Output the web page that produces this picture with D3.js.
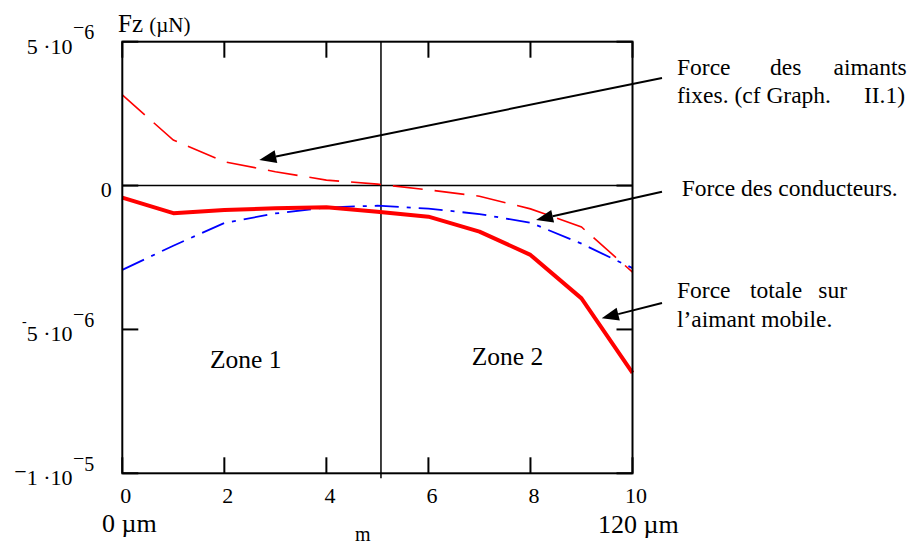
<!DOCTYPE html>
<html><head><meta charset="utf-8">
<script src="https://cdn.jsdelivr.net/npm/d3@7"></script>
<style>
body{margin:0;background:#fff}
text{font-family:"Liberation Serif","Times New Roman",serif;fill:#000}
</style>
</head><body>
<svg id="chart" width="915" height="547"></svg>
<script>
// ---- data ----
const xValues = [0, 1, 2, 3, 4, 5, 6, 7, 8, 9, 10];
const forceAimantsFixes = [3.15e-6, 1.58e-6, 0.83e-6, 0.48e-6, 0.19e-6, 0.05e-6, -0.15e-6, -0.37e-6, -0.81e-6, -1.44e-6, -3.01e-6];
const forceConducteurs = [-2.93e-6, -2.09e-6, -1.30e-6, -0.97e-6, -0.76e-6, -0.70e-6, -0.80e-6, -0.99e-6, -1.29e-6, -2.02e-6, -2.87e-6];
const forceTotale = [-0.42e-6, -0.96e-6, -0.85e-6, -0.79e-6, -0.75e-6, -0.91e-6, -1.08e-6, -1.60e-6, -2.41e-6, -3.92e-6, -6.51e-6];
const xTickValues = [0, 2, 4, 6, 8, 10];
const xTickLabels = ["0", "2", "4", "6", "8", "10"];
const yTickValues = [5e-6, 0, -5e-6, -1e-5];
const yTickMantissa = ["5 ·10", "0", "-5 ·10", "−1 ·10"];
const yTickExponent = ["6", "", "6", "5"];
const zoneMarkerX = 5.07;
const zoneLabels = ["Zone 1", "Zone 2"];
const zoneLabelX = [1.72, 6.85];
const zoneLabelY = [-6.34e-6, -6.24e-6];
const arrowTipX = [2.685, 8.11, 9.397];
const arrowTipY = [0.889e-6, -1.197e-6, -4.613e-6];

// ---- layout ----
const svg = d3.select("#chart");
const L = 122.3, R = 632.5, T = 41.7, B = 473.3;
const x = d3.scaleLinear().domain([0, 10]).range([L, R]);
const y = d3.scaleLinear().domain([-1e-5, 5e-6]).range([B, T]);
const TICK = 16;

// zero line
svg.append("line").attr("x1", L).attr("x2", R).attr("y1", y(0)).attr("y2", y(0))
  .attr("stroke", "#000").attr("stroke-width", 1.5);
// zone marker
svg.append("line").attr("x1", x(zoneMarkerX)).attr("x2", x(zoneMarkerX)).attr("y1", T).attr("y2", B + 5)
  .attr("stroke", "#000").attr("stroke-width", 1.5);

// series
const line = d3.line().x((d, i) => x(xValues[i])).y(d => y(d));
svg.append("path").datum(forceAimantsFixes).attr("d", line).attr("fill", "none")
  .attr("stroke", "#ff0000").attr("stroke-width", 1.6).attr("stroke-dasharray", "30,12");
svg.append("path").datum(forceConducteurs).attr("d", line).attr("fill", "none")
  .attr("stroke", "#0000ff").attr("stroke-width", 1.8).attr("stroke-dasharray", "24,8,4,8");
svg.append("path").datum(forceTotale).attr("d", line).attr("fill", "none")
  .attr("stroke", "#ff0000").attr("stroke-width", 4).attr("stroke-linejoin", "round");

// frame
svg.append("rect").attr("x", L).attr("y", T).attr("width", R - L).attr("height", B - T)
  .attr("fill", "none").attr("stroke", "#000").attr("stroke-width", 2);

// ticks (inward, mirrored)
const tg = svg.append("g").attr("stroke", "#000").attr("stroke-width", 2);
xTickValues.forEach(v => {
  tg.append("line").attr("x1", x(v)).attr("x2", x(v)).attr("y1", B).attr("y2", B - TICK);
  tg.append("line").attr("x1", x(v)).attr("x2", x(v)).attr("y1", T).attr("y2", T + TICK);
});
yTickValues.forEach(v => {
  tg.append("line").attr("x1", L).attr("x2", L + TICK).attr("y1", y(v)).attr("y2", y(v));
  tg.append("line").attr("x1", R).attr("x2", R - TICK).attr("y1", y(v)).attr("y2", y(v));
});

// x tick labels
xTickValues.forEach((v, i) => {
  svg.append("text").attr("x", x(v) + 3.5).attr("y", B + 30).attr("text-anchor", "middle")
    .attr("font-size", 22).text(xTickLabels[i]);
});

// y tick labels
yTickValues.forEach((v, i) => {
  const base = y(v) + 11.8;
  const m = yTickMantissa[i];
  if (!yTickExponent[i]) {
    svg.append("text").attr("x", 111.7).attr("y", base).attr("text-anchor", "end")
      .attr("font-size", 22).text(m);
    return;
  }
  const t = svg.append("text").attr("x", 72.5).attr("y", base).attr("text-anchor", "end").attr("font-size", 22);
  const first = m[0];
  if (first === "-") {
    t.append("tspan").attr("font-size", 14).attr("dy", -15).text("-");
    t.append("tspan").attr("dy", 15).text(m.slice(1));
  } else if (first === "−") {
    t.append("tspan").attr("dy", -6).text("−");
    t.append("tspan").attr("dy", 6).text(m.slice(1));
  } else {
    t.text(m);
  }
  const e = svg.append("text").attr("x", 73).attr("y", base - 20).attr("font-size", 20);
  e.append("tspan").text("−");
  e.append("tspan").attr("dy", 5.5).text(yTickExponent[i]);
});

// axis titles
const ft = svg.append("text").attr("x", 118).attr("y", 31.7).attr("font-size", 25);
ft.append("tspan").text("Fz ");
ft.append("tspan").attr("font-size", 21).text("(µN)");
svg.append("text").attr("x", 102).attr("y", 532).attr("font-size", 26).text("0 µm");
svg.append("text").attr("x", 598).attr("y", 533).attr("font-size", 26).text("120 µm");
svg.append("text").attr("x", 355).attr("y", 541).attr("font-size", 20).text("m");

// zone labels
zoneLabels.forEach((s, i) => {
  svg.append("text").attr("x", x(zoneLabelX[i])).attr("y", y(zoneLabelY[i]))
    .attr("font-size", 25.5).text(s);
});

// annotations
const fs = 23.5;
function txt(s, px, py, anchor) {
  svg.append("text").attr("x", px).attr("y", py).attr("font-size", fs)
    .attr("text-anchor", anchor || "start").text(s);
}
txt("Force", 677, 75); txt("des", 770, 75); txt("aimants", 906.7, 75, "end");
txt("fixes. (cf Graph.", 677, 103); txt("II.1)", 905, 103, "end");
txt("Force des conducteurs.", 681.7, 196);
txt("Force", 677, 298); txt("totale", 750, 298); txt("sur", 847, 298, "end");
txt("l’aimant mobile.", 677, 327);

const arrowStarts = [[662, 78], [662, 191.7], [662, 303]];
arrowStarts.forEach((s, i) => {
  const tx = x(arrowTipX[i]), ty = y(arrowTipY[i]);
  const dx = tx - s[0], dy = ty - s[1], len = Math.hypot(dx, dy);
  const ux = dx / len, uy = dy / len, hl = 17, hw = 6.5;
  const bx = tx - ux * hl, by = ty - uy * hl;
  svg.append("line").attr("x1", s[0]).attr("y1", s[1]).attr("x2", bx).attr("y2", by)
    .attr("stroke", "#000").attr("stroke-width", 2);
  svg.append("path").attr("d", `M${tx},${ty}L${bx - uy * hw},${by + ux * hw}L${bx + uy * hw},${by - ux * hw}Z`)
    .attr("fill", "#000");
});
</script>
</body></html>
